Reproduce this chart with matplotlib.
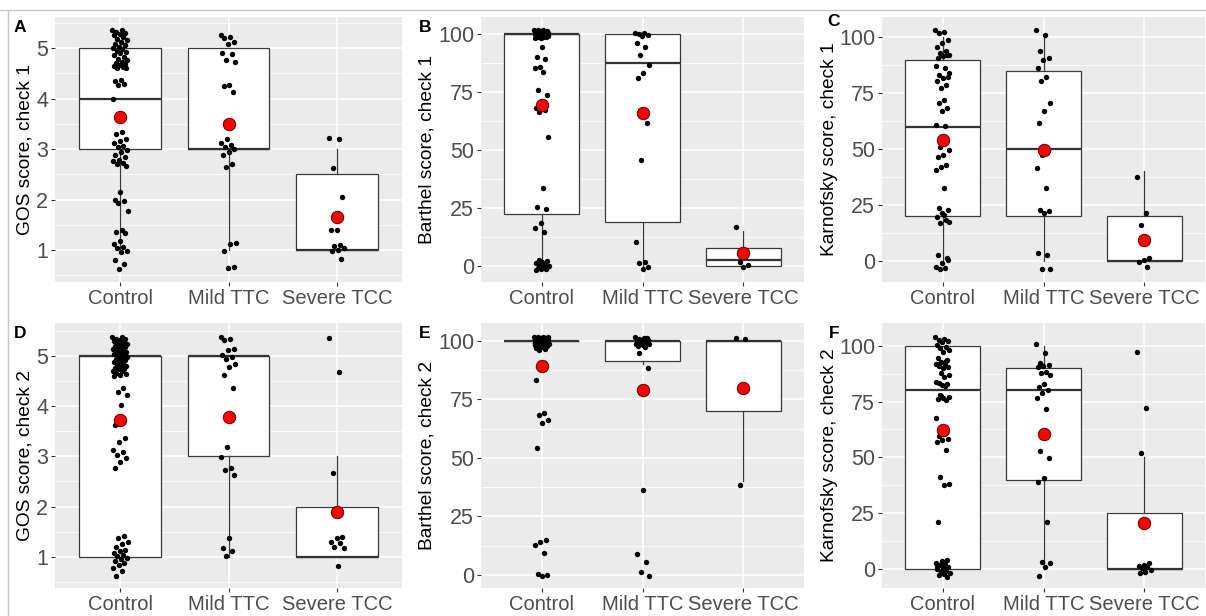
import matplotlib.pyplot as plt
import numpy as np
from matplotlib.lines import Line2D

plt.rcParams['font.family'] = ['Liberation Sans', 'DejaVu Sans']

groups = ["Control", "Mild TTC", "Severe TCC"]

# GOS, check 1 (jittered values as they appear)
gos1_ctrl = [5.37, 5.36, 5.33, 5.31, 5.28, 5.26, 5.22, 5.18, 5.16, 5.12, 5.09, 5.07, 5.03, 5.0, 4.98,
             4.95, 4.93, 4.9, 4.86, 4.83, 4.79, 4.77, 4.73, 4.71, 4.69, 4.66, 4.65, 4.63, 4.61, 4.6,
             4.38, 4.35, 4.3, 4.27, 3.99,
             3.33, 3.3, 3.2, 3.16, 3.12, 3.07, 3.04, 2.99, 2.94, 2.88, 2.84, 2.79, 2.76, 2.73, 2.71, 2.67,
             2.15, 2.0, 1.97, 1.93, 1.78,
             1.4, 1.35, 1.33, 1.18, 1.12, 1.06, 1.03, 0.98, 0.95, 0.8, 0.72, 0.62]
gos1_mild = [5.26, 5.23, 5.2, 5.13, 5.08, 4.9, 4.88, 4.77, 4.73, 4.27, 4.26, 4.14, 3.21, 3.12, 3.08,
             3.04, 3.0, 2.95, 2.88, 2.7, 2.64, 1.14, 1.12, 0.97, 0.67, 0.64]
gos1_sev = [3.22, 3.2, 2.62, 2.06, 1.4, 1.39, 1.1, 1.07, 1.03, 1.0, 0.97, 0.82]
gos1_box = [(1, 3, 4, 5, 5), (1, 3, 3, 5, 5), (1, 1, 1, 2.5, 3)]   # whislo, q1, med, q3, whishi
gos1_mean = [3.63, 3.49, 1.65]

# Barthel, check 1
bart1_ctrl = [101.8, 101.6, 101.5, 101.3, 101.2, 101.0, 100.9, 100.8, 100.6, 100.5, 100.4, 100.3, 100.2,
              100.0, 99.9, 99.8, 99.7, 99.6, 99.4, 99.2, 99.1, 99.0, 98.8, 98.6, 98.5, 98.4, 98.2, 98.9,
              100.7, 99.5,
              94.5, 90.2, 89.1, 85.9, 85.2, 83.7, 75.8, 73.7, 68.6, 67.9, 67.2, 66.5, 55.4, 33.7, 25.5,
              24.7, 18.3, 16.1, 14.7,
              2.4, 2.0, 1.6, 1.2, 0.8, 0.4, 0.0, -0.4, -0.8, -1.2, -1.6, -2.0]
bart1_mild = [100.6, 100.3, 100.0, 99.6, 99.2, 96.0, 94.5, 90.9, 86.6, 83.0, 80.9, 61.4, 45.6, 10.4,
              1.7, 1.0, -0.4, -1.2]
bart1_sev = [16.8, 4.0, 1.5, 0.3, -0.5]
bart1_box = [(0, 22.5, 100, 100, 100), (0, 18.75, 87.5, 100, 100), (0, 0, 2.5, 7.5, 15)]
bart1_mean = [69.4, 65.8, 5.3]

# Karnofsky, check 1
karn1_ctrl = [103.3, 102.5, 101.8, 98.8, 97.3, 95.8, 93.6, 92.8, 92.1, 91.4, 90.6, 91.8, 92.5, 86.9,
              86.1, 83.2, 82.4, 81.7, 80.2, 78.7, 77.2, 84.0, 72.0, 70.5, 68.3, 66.8, 60.8, 60.1, 51.1,
              49.6, 47.4, 46.6, 42.9, 42.2, 40.7, 32.5, 23.5, 22.8, 21.3, 19.8, 18.3, 16.8, 17.5, 20.5,
              2.7, 1.2, -1.0, -2.5, -3.3, -3.7, 0.5]
karn1_mild = [103.3, 101.0, 93.6, 90.6, 89.9, 86.1, 82.4, 80.2, 70.5, 66.8, 61.5, 49.6, 47.4, 41.4,
              32.5, 22.8, 22.1, 21.3, 3.4, 2.7, -3.5, -3.8]
karn1_sev = [37.7, 21.3, 16.1, 1.2, 0.5, -0.3, -2.5]
karn1_box = [(0, 20, 60, 90, 100), (0, 20, 50, 85, 100), (0, 0, 0, 20, 40)]
karn1_mean = [54.1, 49.6, 9.4]

# GOS, check 2
gos2_ctrl = [5.39, 5.38, 5.35, 5.34, 5.33, 5.3, 5.29, 5.26, 5.25, 5.22, 5.21, 5.18, 5.17, 5.14, 5.13,
             5.1, 5.08, 5.07, 5.04, 5.03, 5.0, 4.99, 4.96, 4.95, 4.92, 4.91, 4.88, 4.86, 4.83, 4.81,
             4.8, 4.77, 4.75, 4.74, 4.71, 4.7, 4.67, 4.65, 4.62, 4.6,
             4.36, 4.29, 4.22, 4.02, 3.62, 3.36, 3.29, 3.13, 3.09, 3.03, 2.96, 2.89, 2.76,
             1.42, 1.37, 1.29, 1.25, 1.19, 1.14, 1.11, 1.07, 1.04, 1.01, 0.98, 0.95, 0.91, 0.87,
             0.84, 0.77, 0.72, 0.61]
gos2_mild = [5.39, 5.35, 5.32, 5.15, 5.12, 5.02, 4.99, 4.95, 4.85, 4.79, 4.62, 4.36, 3.19, 2.99, 2.76,
             2.73, 2.63, 1.37, 1.17, 1.11, 1.02]
gos2_sev = [5.37, 4.69, 2.66, 1.4, 1.37, 1.3, 1.27, 1.2, 1.17, 0.81]
gos2_box = [(1, 1, 5, 5, 5), (1, 3, 5, 5, 5), (1, 1, 1, 2, 3)]
gos2_mean = [3.72, 3.78, 1.90]

# Barthel, check 2
bart2_ctrl = [101.9, 101.8, 101.6, 101.5, 101.4, 101.3, 101.1, 101.0, 100.9, 100.8, 100.7, 100.6, 100.5,
              100.4, 100.3, 100.2, 100.1, 100.0, 99.9, 99.8, 99.7, 99.6, 99.5, 99.4, 99.3, 99.2, 99.1,
              99.0, 98.9, 98.8, 98.7, 98.6, 98.5, 98.4, 98.3, 98.2, 98.0, 97.8, 97.5, 97.1, 96.6, 96.2,
              101.7, 101.2, 100.6, 100.1, 99.6, 99.1, 98.6, 98.1, 101.5, 100.9, 100.3, 99.8, 99.2,
              98.7, 100.4, 99.4, 101.0, 99.9,
              83.3, 69.1, 68.4, 66.2, 64.8, 54.1, 15.0, 14.0, 12.8, 9.3, 0.2, -0.1, -0.3]
bart2_mild = [101.8, 101.2, 100.9, 100.6, 100.2, 99.9, 99.5, 99.1, 98.7, 98.3, 97.9, 101.5, 100.4, 98.9,
              97.6, 94.7, 88.3, 36.3, 8.8, 5.7, 1.4, -0.3]
bart2_sev = [101.1, 100.8, 38.5]
bart2_box = [(100, 100, 100, 100, 100), (90, 91.25, 100, 100, 100), (40, 70, 100, 100, 100)]
bart2_mean = [89.3, 79.1, 80.0]

# Karnofsky, check 2
karn2_ctrl = [104.0, 103.2, 102.8, 102.1, 101.8, 100.3, 99.6, 98.9, 98.2, 97.3, 94.3, 93.5, 92.8, 92.0,
              91.4, 90.9, 90.3, 89.9, 91.7, 93.1, 87.6, 86.8, 85.9, 83.5, 82.9, 82.4, 83.8, 82.1, 77.9,
              77.2, 76.6, 76.1, 75.7, 77.5, 67.5, 60.7, 59.5, 58.4, 57.6, 57.0, 53.3, 41.3, 38.3, 37.6,
              21.2, 4.0, 3.5, 2.9, 2.2, 1.6, 1.0, 0.4, -0.2, -0.8, -1.3, -1.9, -2.4, -2.9, -3.4, 3.1,
              0.7, -1.1]
karn2_mild = [100.6, 96.6, 92.1, 91.6, 91.0, 90.6, 88.4, 87.6, 86.9, 83.1, 81.6, 80.2, 78.7, 76.7, 71.6,
              52.8, 49.9, 40.9, 39.1, 20.9, 3.3, 2.5, 1.0, -3.0]
karn2_sev = [97.0, 72.2, 51.8, 2.5, 1.8, 1.3, 0.8, 0.3, -0.5, -1.2, -1.6]
karn2_box = [(0, 0, 80, 100, 100), (0, 40, 80, 90, 100), (0, 0, 0, 25, 50)]
karn2_mean = [62.3, 60.6, 20.5]

W, H = 1206, 616
gos_ticks = [1, 2, 3, 4, 5]
gos_minor = [0.5, 1.5, 2.5, 3.5, 4.5, 5.5]
pct_ticks = [0, 25, 50, 75, 100]
pct_minor = [12.5, 37.5, 62.5, 87.5]

# letter, ylabel, points, box, mean, ylim, ticks, minor, panel left/right px, top px, letter xy, label x
panels = [
    ("A", "GOS score, check 1", [gos1_ctrl, gos1_mild, gos1_sev], gos1_box, gos1_mean,
     (0.365, 5.62), gos_ticks, gos_minor, (55, 402), 17, (20, 28), 25),
    ("B", "Barthel score, check 1", [bart1_ctrl, bart1_mild, bart1_sev], bart1_box, bart1_mean,
     (-7.0, 107.3), pct_ticks, pct_minor, (481, 804), 17, (425, 28), 427),
    ("C", "Karnofsky score, check 1", [karn1_ctrl, karn1_mild, karn1_sev], karn1_box, karn1_mean,
     (-9.4, 109.0), pct_ticks, pct_minor, (882, 1205), 17, (834, 22), 829),
    ("D", "GOS score, check 2", [gos2_ctrl, gos2_mild, gos2_sev], gos2_box, gos2_mean,
     (0.376, 5.66), gos_ticks, gos_minor, (55, 402), 323, (20, 334), 25),
    ("E", "Barthel score, check 2", [bart2_ctrl, bart2_mild, bart2_sev], bart2_box, bart2_mean,
     (-5.6, 107.7), pct_ticks, pct_minor, (481, 804), 323, (425, 334), 427),
    ("F", "Karnofsky score, check 2", [karn2_ctrl, karn2_mild, karn2_sev], karn2_box, karn2_mean,
     (-8.5, 110.2), pct_ticks, pct_minor, (882, 1205), 323, (834, 333), 829),
]

panel_h = 265

fig = plt.figure(figsize=(W / 100, H / 100), dpi=100)

for (letter, ylab, pts, box, means, ylim, ticks, minor, (x0, x1), top,
     (lx, ly), labx) in panels:
    ax = fig.add_axes([x0 / W, (H - top - panel_h) / H, (x1 - x0) / W, panel_h / H])
    ax.set_facecolor('#EBEBEB')
    for s in ax.spines.values():
        s.set_visible(False)

    stats = [dict(whislo=b[0], q1=b[1], med=b[2], q3=b[3], whishi=b[4], fliers=[]) for b in box]
    ax.bxp(stats, positions=[1, 2, 3], widths=0.75, patch_artist=True,
           showcaps=False, showfliers=False, manage_ticks=False,
           boxprops=dict(facecolor='white', edgecolor='#3a3a3a', lw=0.9),
           whiskerprops=dict(color='#3a3a3a', lw=0.9),
           medianprops=dict(color='#333333', lw=1.6))

    for i, vals in enumerate(pts):
        # spread points sideways like geom_jitter
        off = ((np.arange(len(vals)) * 0.6180339887) % 1 - 0.5) * 0.14
        ax.scatter(i + 1 + off, vals, s=15, color='black', lw=0, zorder=3)
    ax.scatter([1, 2, 3], means, s=80, color='red', edgecolor='#5a0000', lw=0.7, zorder=4)

    ax.set_xlim(0.4, 3.6)
    ax.set_ylim(*ylim)
    ax.set_yticks(ticks)
    ax.set_yticks(minor, minor=True)
    ax.set_xticks([1, 2, 3])
    ax.set_xticklabels(groups)
    ax.grid(which='major', color='white', lw=1.1)
    ax.grid(which='minor', axis='y', color='white', lw=0.55)
    ax.set_axisbelow(True)
    ax.tick_params(which='minor', length=0)
    ax.tick_params(which='major', length=3, width=0.8, color='#333333',
                   labelcolor='#4D4D4D', pad=2)
    ax.tick_params(axis='x', labelsize=14.5)
    ax.tick_params(axis='y', labelsize=15.5)

    fig.text(labx / W, 1 - (top + panel_h / 2) / H, ylab, rotation=90,
             ha='center', va='center', fontsize=13.8, color='black')
    fig.text(lx / W, 1 - ly / H, letter, ha='center', va='center',
             fontsize=12.5, fontweight='bold', color='black')

# frame lines of the screenshot
fig.add_artist(Line2D([0, 1], [1 - 10 / H, 1 - 10 / H], transform=fig.transFigure,
                      color='#c8c8c8', lw=1))
fig.add_artist(Line2D([8 / W, 8 / W], [0, 1 - 10 / H], transform=fig.transFigure,
                      color='#c8c8c8', lw=1))

fig.savefig("out.png", dpi=100)
